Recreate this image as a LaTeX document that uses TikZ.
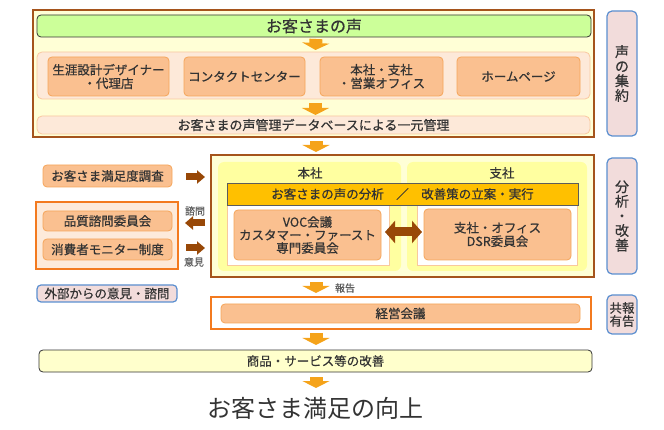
\documentclass[tikz,border=0pt]{standalone}
\usepackage{fontspec}
\setmainfont[FakeBold=0.6,AutoFakeBold=0]{Noto Sans CJK JP}
\newfontfamily\goalfont{Noto Sans CJK JP}
\usepackage{tikz}
\usetikzlibrary{positioning,calc,arrows.meta}

\definecolor{ink}{HTML}{333333}
\definecolor{framebrown}{HTML}{A5541C}
\definecolor{paleyellow}{HTML}{FFFFD6}
\definecolor{voicegreen}{HTML}{CCFF99}
\definecolor{panelfill}{HTML}{FDE9D9}
\definecolor{panelline}{HTML}{FAC8A0}
\definecolor{ofill}{HTML}{FAC090}
\definecolor{oline}{HTML}{F5A55A}
\definecolor{sideblue}{HTML}{5B8FD0}
\definecolor{sidepink}{HTML}{F2DCDB}
\definecolor{hqyellow}{HTML}{FFFFA0}
\definecolor{baryellow}{HTML}{FFC000}
\definecolor{grporange}{HTML}{F37A1F}
\definecolor{grpfill}{HTML}{FDEADA}
\definecolor{lightyellow}{HTML}{FFFFCC}
\definecolor{arrorange}{HTML}{F5A31A}
\definecolor{arrbrown}{HTML}{984807}

\begin{document}
\begin{tikzpicture}[x=1pt, y=-1pt,
    every node/.style={inner sep=0pt, outer sep=0pt, text=ink, align=center},
    sz/.style 2 args={minimum width=#1pt, minimum height=#2pt},
    frame/.style={draw=framebrown, line width=2pt, fill=paleyellow},
    panel/.style={draw=panelline, fill=panelfill, rounded corners=5pt, line width=0.8pt},
    obox/.style={draw=oline, fill=ofill, rounded corners=4pt, line width=0.8pt, font=\fontsize{12.5}{13.5}\selectfont},
    side/.style={draw=sideblue, fill=sidepink, rounded corners=5pt, line width=1.2pt, font=\fontsize{14}{14.6}\selectfont},
    small/.style={font=\fontsize{10}{10}\selectfont, text=ink!80},
    darr/.style={draw=arrorange, line width=13pt, -{Triangle[width=27pt,length=7pt]}},
    barr/.style={draw=arrbrown, line width=7pt, -{Triangle[width=13pt,length=8pt]}},
    dbarr/.style={draw=arrbrown, line width=9pt, {Triangle[width=22pt,length=10pt]}-{Triangle[width=22pt,length=10pt]}}]

    \useasboundingbox (0,0) rectangle (664,430);

    %voice collection
    \node[frame, sz={561}{127}] (top) at (313.5,73.5) {};
    \node[draw=ink, fill=voicegreen, rounded corners=4pt, line width=0.8pt, sz={554}{22},
        font=\fontsize{16}{16}\selectfont] (voice) at (314,26) {お客さまの声};
    \node[panel, sz={553}{47}] (chan) at (313.5,75.5) {};
    \node[obox, sz={121}{39}] (agent) at (108.5,76.5) {生涯設計デザイナー\\・代理店};
    \node[obox, sz={121}{39}] (call) at (244.5,76.5) {コンタクトセンター};
    \node[obox, sz={123}{39}] (office) at (381.5,76.5) {本社・支社\\・営業オフィス};
    \node[obox, sz={123}{39}] (web) at (518.5,76.5) {ホームページ};
    \node[panel, sz={553}{18}, font=\fontsize{13}{13}\selectfont] (db) at (313.5,125)
        {お客さまの声管理データベースによる一元管理};
    \node[side, sz={30}{125}] (s1) at (622,73.5) {声\\の\\集\\約};

    %analysis
    \node[frame, sz={383}{122}] (mid) at (402.5,216) {};
    \node[fill=hqyellow, rounded corners=6pt, sz={183}{109}] (hq) at (309.5,216.5) {};
    \node[fill=hqyellow, rounded corners=6pt, sz={180}{109}] (br) at (497,216.5) {};
    \node[font=\fontsize{12.5}{13}\selectfont] (hqname) at (310,173) {本社};
    \node[font=\fontsize{12.5}{13}\selectfont] (brname) at (502,173) {支社};
    \node[draw=oline!60, fill=white, sz={162}{60}] (hqw) at (308,235) {};
    \node[draw=oline!60, fill=white, sz={160}{60}] (brw) at (497,235) {};
    \node[draw=ink!80, fill=baryellow, line width=0.8pt, sz={351}{22},
        font=\fontsize{12.5}{13}\selectfont] (bar) at (402.5,194)
        {お客さまの声の分析\quad ／\quad 改善策の立案・実行};
    \node[obox, sz={147}{50}, font=\fontsize{12.5}{13}\selectfont] (voc) at (307.5,235)
        {VOC会議\\カスタマー・ファースト\\専門委員会};
    \node[obox, sz={147}{51}] (dsr) at (497.5,234.5) {支社・オフィス\\DSR委員会};
    \draw[dbarr] ($(voc.east)+(4,-3)$) -- ($(dsr.west)+(-2,-2.5)$);
    \node[side, sz={30}{116}] (s2) at (622,216) {分\\析\\・\\改\\善};

    %inputs on the left
    \node[obox, sz={129}{22}] (csat) at (107.5,176) {お客さま満足度調査};
    \node[draw=grporange, line width=2pt, fill=grpfill, sz={142}{67}] (grp) at (107,235.5) {};
    \node[obox, sz={129}{20}] (qual) at (107.5,221) {品質諮問委員会};
    \node[obox, sz={129}{21}] (mon) at (107.5,249.5) {消費者モニター制度};
    \node[side, rounded corners=4pt, sz={140}{17}, font=\fontsize{12.5}{13}\selectfont] (ext)
        at (107,293.5) {外部からの意見・諮問};
    \node[small] (ask) at (195,211) {諮問};
    \node[small] (opin) at (194,262) {意見};

    \draw[barr] ($(csat.east)+(14,1)$) -- ($(mid.west |- csat.east)+(-6,1)$);
    \draw[barr] ($(mid.west |- qual.east)+(-6,2)$) -- ($(grp.east |- qual.east)+(7,2)$);
    \draw[barr] ($(grp.east |- mon.east)+(8,-1.5)$) -- ($(mid.west |- mon.east)+(-6,-1.5)$);

    %management
    \node[small] (rep) at (345,288) {報告};
    \node[draw=grporange, line width=2pt, fill=white, sz={380}{32}] (mgf) at (401,313) {};
    \node[obox, sz={359}{19}] (mg) at (400.5,313.5) {経営会議};
    \node[side, sz={30}{39}, font=\fontsize{12.5}{13}\selectfont] (s3) at (622,314.5) {共報\\有告};

    \node[draw=ink, fill=lightyellow, rounded corners=4pt, line width=0.8pt, sz={553}{22},
        font=\fontsize{12.5}{13}\selectfont] (imp) at (315.5,361) {商品・サービス等の改善};
    \node[font=\goalfont\fontsize{24}{24}\selectfont] (goal) at (315,408) {お客さま満足の向上};

    % flow arrows
    \draw[darr] ($(voice.south)+(2,2)$) -- ($(chan.north)+(2,-2)$);
    \draw[darr] ($(chan.south)+(2,4)$) -- ($(db.north)+(2,-1)$);
    \draw[darr] ($(top.south)+(2.5,4)$) -- ($(mid.north -| top.south)+(2.5,-3)$);
    \draw[darr] ($(mid.south -| top.south)+(2.5,5)$) -- ($(mgf.north -| top.south)+(2.5,-4)$);
    \draw[darr] ($(mgf.south -| top.south)+(2.5,4)$) -- ($(imp.north -| top.south)+(2.5,-5)$);
    \draw[darr] ($(imp.south -| top.south)+(2.5,5)$) -- ++(0,11);

\end{tikzpicture}
\end{document}
